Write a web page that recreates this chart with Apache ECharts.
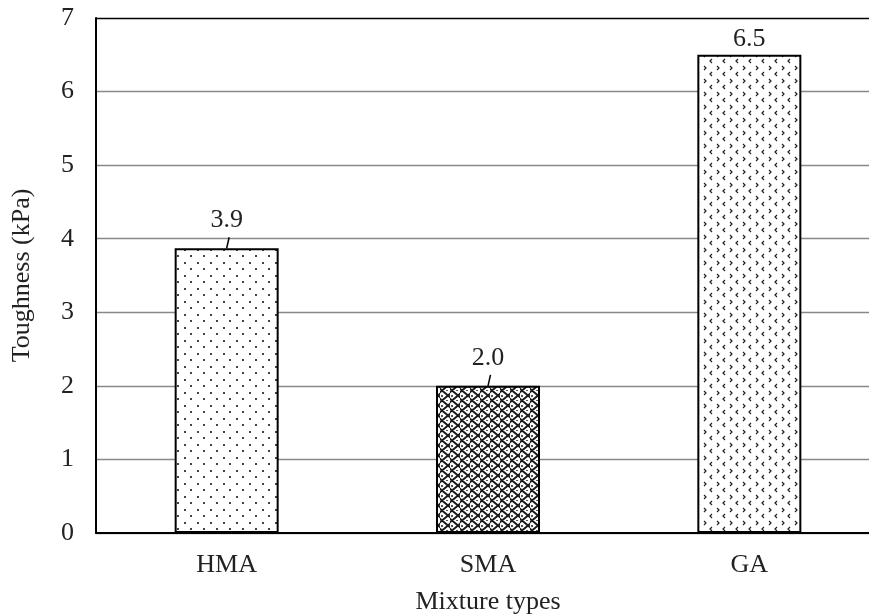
<!DOCTYPE html>
<html>
<head>
<meta charset="utf-8">
<script src="https://cdn.jsdelivr.net/npm/echarts@6/dist/echarts.min.js"></script>
<style>html,body{margin:0;padding:0;background:#fff;}#c{width:869px;height:615px;}</style>
</head>
<body>
<div id="c"></div>
<script>
const categories = ['HMA', 'SMA', 'GA'];
const toughness = [3.87, 2.0, 6.5];
const labels = ['3.9', '2.0', '6.5'];
const leaderIdx = [0, 1];

function makePattern(kind) {
  const c = document.createElement('canvas');
  const ctx = c.getContext('2d');
  if (kind === 'dots') {
    c.width = 13; c.height = 13;
    ctx.fillStyle = '#fff'; ctx.fillRect(0, 0, 13, 13);
    ctx.fillStyle = '#444';
    ctx.fillRect(2, 2, 2, 2);
    ctx.fillRect(8, 8, 2, 2);
  } else if (kind === 'weave') {
    c.width = 10; c.height = 10;
    ctx.fillStyle = '#fff'; ctx.fillRect(0, 0, 10, 10);
    ctx.strokeStyle = '#1a1a1a'; ctx.lineWidth = 2;
    ctx.beginPath();
    ctx.moveTo(-1, 3); ctx.lineTo(2, 0.5); ctx.lineTo(5, 3); ctx.lineTo(8, 5.5); ctx.lineTo(11, 3);
    ctx.moveTo(-1, 8); ctx.lineTo(2, 10.5); ctx.lineTo(5, 8); ctx.lineTo(8, 5.5);
    ctx.moveTo(8, 5.5); ctx.lineTo(11, 8);
    ctx.stroke();
    ctx.fillStyle = '#555';
    ctx.fillRect(1, 5, 2, 2);
    ctx.fillRect(6, 0, 2, 1);
  } else {
    c.width = 13; c.height = 13;
    ctx.fillStyle = '#fff'; ctx.fillRect(0, 0, 13, 13);
    ctx.strokeStyle = '#222'; ctx.lineWidth = 1.2;
    ctx.beginPath();
    ctx.moveTo(2, 1); ctx.lineTo(4, 3); ctx.lineTo(2, 5);
    ctx.moveTo(10, 7); ctx.lineTo(8, 9); ctx.lineTo(10, 11);
    ctx.stroke();
  }
  return c;
}
const patterns = [makePattern('dots'), makePattern('weave'), makePattern('chev')];
const distances = [15, 15, 3];

const chart = echarts.init(document.getElementById('c'));
const font = '"Liberation Serif", "Times New Roman", serif';
const fs = 26;
const gridColors = ['#888', '#888', '#888', '#888', '#888', '#888', '#888', '#000'];

chart.setOption({
  animation: false,
  textStyle: { fontFamily: font },
  grid: { left: 96, width: 784, top: 18, bottom: 82, containLabel: false, outerBoundsMode: 'none' },
  xAxis: {
    type: 'category',
    data: categories,
    name: 'Mixture types',
    nameLocation: 'middle',
    nameGap: 56,
    nameTextStyle: { fontFamily: font, fontSize: fs, color: '#222' },
    axisLine: { lineStyle: { color: '#000', width: 2 } },
    axisTick: { show: false },
    axisLabel: { fontFamily: font, fontSize: fs, color: '#222', margin: 19 }
  },
  yAxis: {
    type: 'value',
    min: 0, max: 7, interval: 1,
    name: 'Toughness (kPa)',
    nameLocation: 'middle',
    nameGap: 61,
    nameTextStyle: { fontFamily: font, fontSize: fs, color: '#222' },
    axisLine: { show: true, lineStyle: { color: '#000', width: 2 } },
    axisTick: { show: false },
    axisLabel: { fontFamily: font, fontSize: fs, color: '#222', margin: 22 },
    splitLine: { show: true, lineStyle: { color: gridColors, width: 1.3 } }
  },
  series: [
    {
      type: 'bar',
      barWidth: 104,
      data: toughness.map((v, i) => ({
        value: v,
        itemStyle: { color: { image: patterns[i], repeat: 'repeat' } },
        label: { distance: distances[i] }
      })),
      itemStyle: { borderColor: '#000', borderWidth: 2 },
      label: {
        show: true, position: 'top',
        fontFamily: font, fontSize: fs, color: '#222',
        formatter: p => labels[p.dataIndex]
      },
      z: 3
    },
    {
      type: 'custom',
      data: leaderIdx.map(i => [i, toughness[i]]),
      renderItem: function (params, api) {
        const p = api.coord([api.value(0), api.value(1)]);
        return {
          type: 'line',
          shape: { x1: p[0] + 0, y1: p[1], x2: p[0] + 2.5, y2: p[1] - 11 },
          style: { stroke: '#000', lineWidth: 1.5 }
        };
      },
      z: 4
    }
  ]
});
</script>
</body>
</html>
